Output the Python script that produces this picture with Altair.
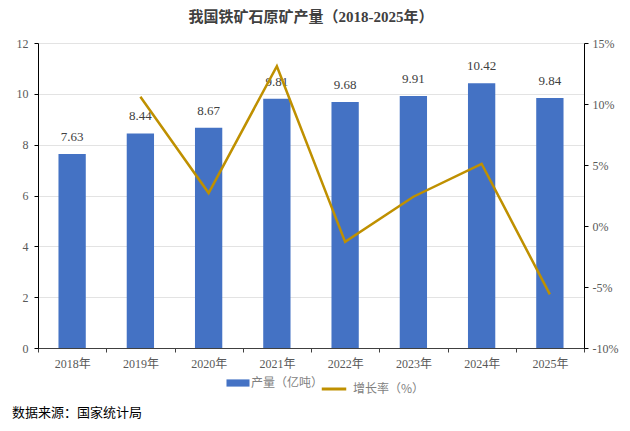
import altair as alt
import pandas as pd

years = ["2018年", "2019年", "2020年", "2021年", "2022年", "2023年", "2024年", "2025年"]
output = [7.63, 8.44, 8.67, 9.81, 9.68, 9.91, 10.42, 9.84]
growth = [None, 10.6, 2.7, 13.1, -1.3, 2.4, 5.1, -5.6]
source_note = ["数据来源：国家统计局"]

df = pd.DataFrame({"year": years, "output": output, "growth": growth})
df["label"] = [f"{v:.2f}" for v in output]

serif = "Liberation Serif, Noto Sans CJK SC"
cjk = "Noto Sans CJK SC"
bar_color = "#4472C4"
line_color = "#BF9000"

x = alt.X("year:N", sort=years, title=None,
          scale=alt.Scale(paddingInner=0, paddingOuter=0),
          axis=alt.Axis(labelAngle=0, tickBand="extent", labelFont=serif,
                        labelFontSize=12, labelColor="#595959", labelPadding=6,
                        domainColor="#404040", tickColor="#404040", tickSize=4))

base = alt.Chart(df).encode(x=x)

y_left = alt.Y("output:Q", title=None,
               scale=alt.Scale(domain=[0, 12]),
               axis=alt.Axis(values=[0, 2, 4, 6, 8, 10, 12], labelFont=serif,
                             labelFontSize=12, labelColor="#595959",
                             domainColor="#000000", tickColor="#000000", tickSize=4,
                             gridColor="#E3E3E3", labelPadding=6))

bars = base.mark_bar(width={"band": 0.4}, color=bar_color).encode(
    y=y_left,
    color=alt.Color("s:N", scale=alt.Scale(domain=["产量（亿吨）"], range=[bar_color]),
                    legend=alt.Legend(title=None, orient="none",
                                      legendX=192, legendY=332,
                                      symbolType="M-1.6,-0.5H1.6V0.5H-1.6Z",
                                      symbolSize=207, labelFont=cjk,
                                      labelFontSize=12, labelColor="#7F7F7F",
                                      labelOffset=5)),
).transform_calculate(s="'产量（亿吨）'")

labels = base.mark_text(dy=-10, baseline="bottom", font=serif, fontSize=13,
                        color="#404040").encode(
    y=y_left,
    text="label:N",
)

line = alt.Chart(df).transform_filter("isValid(datum.growth)").mark_line(
    strokeWidth=2.5).encode(
    x=alt.X("year:N", sort=years),
    y=alt.Y("growth:Q", title=None,
            scale=alt.Scale(domain=[-10, 15]),
            axis=alt.Axis(orient="right", values=[-10, -5, 0, 5, 10, 15],
                          labelExpr="datum.value + '%'", labelFont=serif,
                          labelFontSize=12, labelColor="#595959", grid=False,
                          domainColor="#000000", tickColor="#000000", tickSize=4,
                          labelPadding=4)),
    stroke=alt.Stroke("t:N", scale=alt.Scale(domain=["增长率（%）"], range=[line_color]),
                      legend=alt.Legend(title=None, orient="none",
                                        legendX=282, legendY=332,
                                        symbolType="stroke", symbolStrokeWidth=3,
                                        symbolSize=600, labelFont=cjk,
                                        labelFontSize=12, labelColor="#7F7F7F",
                                        labelOffset=5)),
).transform_calculate(t="'增长率（%）'")

note = alt.Chart(pd.DataFrame({"note": source_note})).mark_text(
    align="left", baseline="middle", font=cjk, fontSize=13, color="#000000"
).encode(x=alt.value(-26), y=alt.value(370), text="note:N")

left = alt.layer(bars, labels).resolve_scale(y="shared")
chart = alt.layer(left, line, note).resolve_scale(
    y="independent", color="independent", stroke="independent"
).properties(
    width=546, height=305,
    title=alt.TitleParams("我国铁矿石原矿产量（2018-2025年）", font=serif,
                          fontSize=15, fontWeight="bold", color="#404040",
                          anchor="middle", offset=12),
    autosize=alt.AutoSizeParams(type="none"),
    padding={"left": 30, "top": 35, "right": 36, "bottom": 72},
).configure_view(stroke=None)

chart.save("out.html", embed_options={"renderer": "svg", "actions": False})
